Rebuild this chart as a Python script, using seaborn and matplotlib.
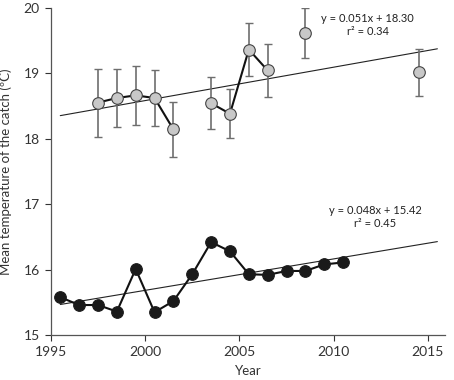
import pandas as pd
import numpy as np
import seaborn as sns
import matplotlib.pyplot as plt

sns.set_theme(style="ticks")
plt.rcParams['font.family'] = ['Lato', 'DejaVu Sans']

# upper series (grey, with error bars); seg splits the connecting line
top_year = [1997.5, 1998.5, 1999.5, 2000.5, 2001.5, 2003.5, 2004.5, 2005.5, 2006.5, 2008.5, 2014.5]
top_temp = [18.55, 18.62, 18.66, 18.62, 18.14, 18.54, 18.38, 19.36, 19.04, 19.61, 19.01]
top_err = [0.52, 0.45, 0.45, 0.42, 0.42, 0.40, 0.37, 0.40, 0.40, 0.38, 0.36]
top_seg = [1, 1, 1, 1, 1, 2, 2, 2, 2, 3, 4]

# lower series (black)
bot_year = [1995.5, 1996.5, 1997.5, 1998.5, 1999.5, 2000.5, 2001.5, 2002.5,
            2003.5, 2004.5, 2005.5, 2006.5, 2007.5, 2008.5, 2009.5, 2010.5]
bot_temp = [15.58, 15.46, 15.46, 15.36, 16.01, 15.35, 15.52, 15.93,
            16.42, 16.28, 15.93, 15.92, 15.98, 15.98, 16.08, 16.11]

# linear fits as printed on the chart (x = index from 1995.5 starting at 1)
top_fit = (0.051, 18.30, 0.34)
bot_fit = (0.048, 15.42, 0.45)

top = pd.DataFrame({'year': top_year, 'temp': top_temp, 'err': top_err, 'seg': top_seg})
bot = pd.DataFrame({'year': bot_year, 'temp': bot_temp})

fig = plt.figure(figsize=(4.54, 3.80), dpi=100)
ax = fig.add_axes([0.112, 0.118, 0.868, 0.862])

# trend lines
xs = np.array([1995.5, 2015.5])
for slope, icpt, r2 in (top_fit, bot_fit):
    ax.plot(xs, icpt + slope * (xs - 1994.5), color='#222222', lw=0.8, zorder=2)

ax.errorbar(top['year'], top['temp'], yerr=top['err'], fmt='none',
            ecolor='#6e6e6e', elinewidth=1.2, capsize=3, capthick=1.0, zorder=3)
sns.lineplot(data=top, x='year', y='temp', units='seg', estimator=None,
             color='#111111', lw=1.5, ax=ax, zorder=4)
sns.scatterplot(data=top, x='year', y='temp', s=70, color='#c8c8c8',
                edgecolor='#444444', linewidth=0.8, ax=ax, zorder=5)

sns.lineplot(data=bot, x='year', y='temp', estimator=None,
             color='#111111', lw=1.5, ax=ax, zorder=4)
sns.scatterplot(data=bot, x='year', y='temp', s=70, color='#1a1a1a',
                edgecolor='#1a1a1a', linewidth=0.8, ax=ax, zorder=5)

ax.text(2011.8, 19.92, "y = %.3fx + %.2f\nr² = %.2f" % top_fit, ha='center', va='top',
        fontsize=8, color='#222222', linespacing=1.2)
ax.text(2012.2, 16.98, "y = %.3fx + %.2f\nr² = %.2f" % bot_fit, ha='center', va='top',
        fontsize=8, color='#222222', linespacing=1.2)

ax.set_xlim(1995, 2015.9)
ax.set_ylim(15, 20)
ax.set_xticks([1995, 2000, 2005, 2010, 2015])
ax.set_yticks([15, 16, 17, 18, 19, 20])
ax.set_xlabel("Year", fontsize=9.5, color='#333333', labelpad=5)
ax.set_ylabel("Mean temperature of the catch (ºC)", fontsize=9.5, color='#333333', labelpad=8)
ax.tick_params(labelsize=10, colors='#333333', length=4, width=0.8, pad=4)
for s in ['left', 'bottom']:
    ax.spines[s].set_color('#555555')
    ax.spines[s].set_linewidth(0.9)
sns.despine(ax=ax)

fig.savefig('out.png', dpi=100)
